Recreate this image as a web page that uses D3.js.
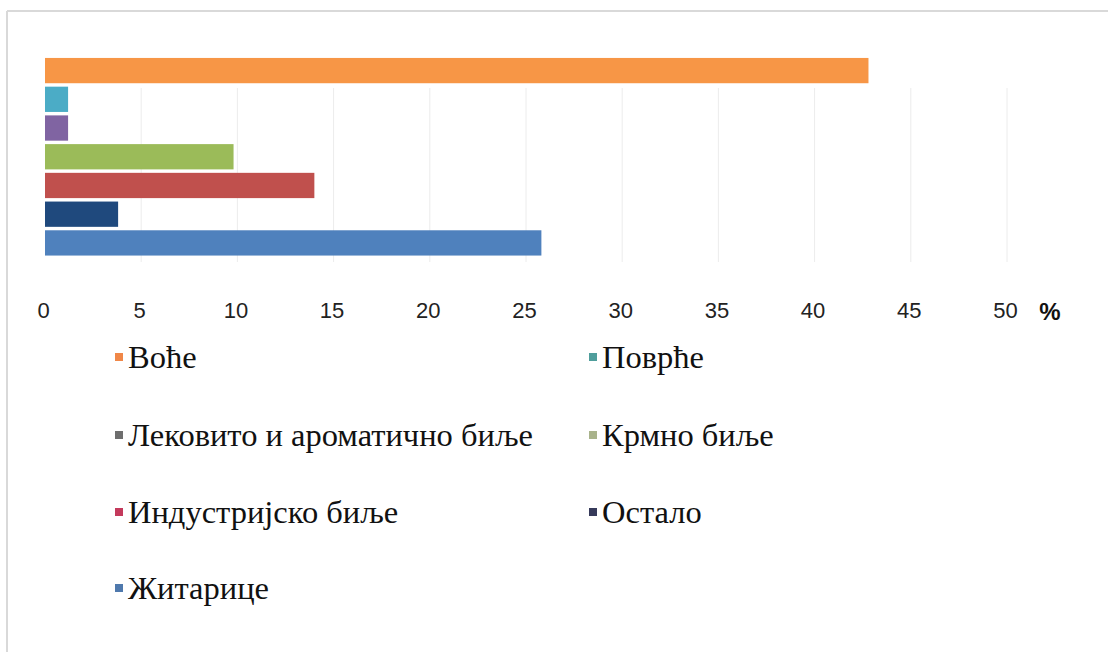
<!DOCTYPE html>
<html>
<head>
<meta charset="utf-8">
<script src="https://cdn.jsdelivr.net/npm/d3@7"></script>
<style>
  html, body { margin: 0; padding: 0; background: #fff; }
  svg { display: block; }
  .leg { font-family: "Liberation Serif", "Times New Roman", Tinos, "DejaVu Serif", serif; }
</style>
</head>
<body>
<svg id="chart" width="1108" height="652"></svg>
<script>
// ---- data ----
const categories = ["Воће", "Поврће", "Лековито и ароматично биље", "Крмно биље", "Индустријско биље", "Остало", "Житарице"];
const values = [42.8, 1.2, 1.2, 9.8, 14.0, 3.8, 25.8];
const tickValues = [0, 5, 10, 15, 20, 25, 30, 35, 40, 45, 50];
const unitLabel = "%";

// ---- styles ----
const barColors = ["#f79646", "#4bacc6", "#8064a2", "#9bbb59", "#c0504d", "#1f497d", "#4f81bd"];
const legendColors = ["#f08748", "#4f9e9c", "#6e6e6e", "#a9b38b", "#c43a5c", "#363a5a", "#4f79ad"];

const svg = d3.select("#chart");

// frame
svg.append("line").attr("x1", 7).attr("x2", 1108).attr("y1", 11).attr("y2", 11)
  .attr("stroke", "#d9d9d9").attr("stroke-width", 2);
svg.append("line").attr("x1", 7).attr("x2", 7).attr("y1", 11).attr("y2", 652)
  .attr("stroke", "#d9d9d9").attr("stroke-width", 2);

const x = d3.scaleLinear().domain([0, 50]).range([45, 1007]);
const y = d3.scaleBand().domain(categories).range([54.5, 259]).paddingInner(0.12).paddingOuter(0.12);

// gridlines
svg.append("g").selectAll("line").data(tickValues.slice(1)).join("line")
  .attr("x1", d => x(d)).attr("x2", d => x(d))
  .attr("y1", 88).attr("y2", 262)
  .attr("stroke", "#ececec").attr("stroke-width", 1);

// bars
svg.append("g").selectAll("rect").data(categories).join("rect")
  .attr("x", x(0))
  .attr("y", d => y(d))
  .attr("width", (d, i) => x(values[i]) - x(0))
  .attr("height", y.bandwidth())
  .attr("fill", (d, i) => barColors[i]);

// axis
const axis = d3.axisBottom(x).tickValues(tickValues).tickSize(0).tickPadding(0);
const ag = svg.append("g").attr("transform", "translate(0,302)").call(axis);
ag.select(".domain").remove();
ag.selectAll("text")
  .attr("font-family", "'Liberation Sans Narrow', 'Arial Narrow', sans-serif")
  .attr("font-size", 22)
  .attr("fill", "#222")
  .attr("dy", "0.71em")
  .attr("dx", -2);

svg.append("text").attr("x", 1050).attr("y", 320)
  .attr("text-anchor", "middle")
  .attr("font-family", "'Liberation Sans', Arial, sans-serif")
  .attr("font-weight", "bold").attr("font-size", 24).attr("fill", "#111")
  .text(unitLabel);

// legend
const colX = [115, 589];
const rowY = [357, 435, 512, 588];
const lg = svg.append("g").selectAll("g").data(categories).join("g")
  .attr("transform", (d, i) => `translate(${colX[i % 2]},${rowY[Math.floor(i / 2)]})`);
lg.append("rect").attr("x", 0).attr("y", -4).attr("width", 8).attr("height", 8)
  .attr("fill", (d, i) => legendColors[i]);
lg.append("text").attr("class", "leg").attr("x", 13).attr("y", 0).attr("dy", "0.35em")
  .attr("font-size", 32.5).attr("fill", "#111")
  .text(d => d);
</script>
</body>
</html>
